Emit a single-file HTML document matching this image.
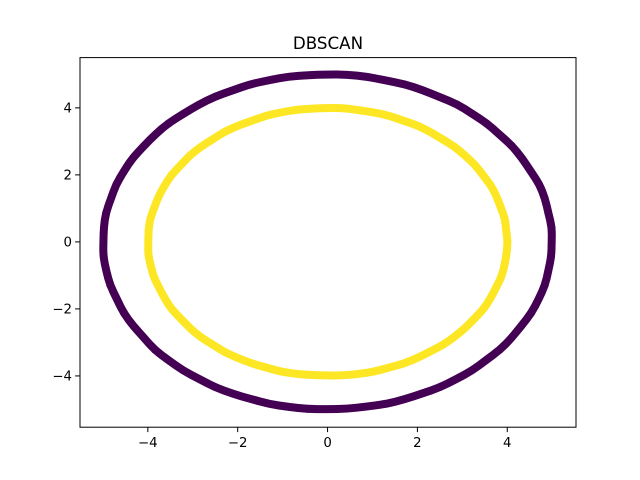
<!DOCTYPE html>
<html><head><meta charset="utf-8"><style>
body{margin:0;background:#fff}
svg{display:block;font-family:"DejaVu Sans","Liberation Sans",sans-serif}
</style></head><body>
<svg id="chart" width="640" height="480">
<rect width="640" height="480" fill="#fff"/>
<text x="328" y="49" font-size="16.7" text-anchor="middle" fill="#000">DBSCAN</text>
<g id="plot"></g>
<rect x="80" y="57.6" width="496" height="369.6" fill="none" stroke="#000" stroke-width="1"/>
<g id="axes"></g>
</svg>
<script>
const angles = [0,5,10,15,20,25,30,35,40,45,50,55,60,65,70,75,80,85,90,95,100,105,110,115,120,125,130,135,140,145,150,155,160,165,170,175,180,185,190,195,200,205,210,215,220,225,230,235,240,245,250,255,260,265,270,275,280,285,290,295,300,305,310,315,320,325,330,335,340,345,350,355];
const outerRadii = [4.99,5.01,4.99,5.01,5.02,4.99,5.0,5.01,4.99,5.01,5.0,5.02,4.99,5.0,5.01,4.99,5.01,5.01,5.0,4.99,5.01,5.0,5.01,4.99,5.01,5.0,4.99,5.01,5.0,4.99,5.01,5.0,5.01,4.99,5.01,5.0,4.99,5.01,5.0,5.01,4.99,5.01,5.0,4.99,5.02,5.0,5.01,4.99,5.01,5.0,4.99,5.01,5.0,5.01,4.99,5.0,4.99,5.01,5.0,4.99,5.01,5.0,5.01,4.99,5.01,5.0,4.99,5.01,5.0,5.01,4.99,5.0];
const innerRadii = [4.01,3.99,4.01,3.99,4.0,4.01,3.99,4.01,4.0,4.01,3.99,4.0,4.01,3.99,4.01,4.0,3.99,4.01,4.0,3.99,4.01,4.0,4.01,3.99,4.0,4.01,3.99,4.0,4.01,3.99,4.01,4.0,4.0,3.99,4.01,4.0,3.99,4.01,4.0,4.01,3.99,4.0,4.01,3.99,4.0,4.01,3.99,4.01,4.0,4.0,3.99,4.01,4.0,3.99,3.99,4.0,4.0,4.01,3.99,4.01,4.0,3.99,4.01,4.0,4.0,3.99,4.01,4.0,3.99,4.01,4.0,4.0];
const xTicks = [-4,-2,0,2,4];
const yTicks = [-4,-2,0,2,4];
const xMin=-5.51,xMax=5.53,yMin=-5.53,yMax=5.5;
const L=80,R=576,T=57.6,B=427.2;
const sx=v=>L+(v-xMin)/(xMax-xMin)*(R-L);
const sy=v=>B-(v-yMin)/(yMax-yMin)*(B-T);
const NS="http://www.w3.org/2000/svg";
const plot=document.getElementById('plot'), axes=document.getElementById('axes');
function drawRing(radii,color,name){
  const pts=angles.map((a,i)=>{const t=a*Math.PI/180;return [sx(radii[i]*Math.cos(t)),sy(radii[i]*Math.sin(t))];});
  const n=pts.length;
  let d='M'+((pts[n-1][0]+pts[0][0])/2).toFixed(1)+','+((pts[n-1][1]+pts[0][1])/2).toFixed(1);
  for(let i=0;i<n;i++){const a=pts[i],b=pts[(i+1)%n];
    d+='Q'+a[0].toFixed(1)+','+a[1].toFixed(1)+' '+((a[0]+b[0])/2).toFixed(1)+','+((a[1]+b[1])/2).toFixed(1);}
  const p=document.createElementNS(NS,'path');
  p.setAttribute('d',d+'Z');
  p.setAttribute('fill','none');p.setAttribute('stroke',color);p.setAttribute('stroke-width','8');p.setAttribute('stroke-linejoin','round');
  
  
  plot.appendChild(p);
  pts.forEach(q=>{const c=document.createElementNS(NS,'circle');
    c.setAttribute('cx',q[0]);c.setAttribute('cy',q[1]);c.setAttribute('r',3.6);c.setAttribute('fill',color);
    
    
    plot.appendChild(c);});
}
drawRing(outerRadii,'#440154','outer-cluster');
drawRing(innerRadii,'#fde725','inner-cluster');
function lbl(v){return v<0?'\u2212'+(-v):String(v);}
xTicks.forEach(v=>{const x=sx(v);
  const l=document.createElementNS(NS,'line');l.setAttribute('x1',x);l.setAttribute('x2',x);l.setAttribute('y1',B);l.setAttribute('y2',B+4.9);l.setAttribute('stroke','#000');
  
  
  axes.appendChild(l);
  const t=document.createElementNS(NS,'text');t.setAttribute('x',x);t.setAttribute('y',B+20);t.setAttribute('font-size','13.3');t.setAttribute('text-anchor','middle');t.textContent=lbl(v);
  
  
  axes.appendChild(t);});
yTicks.forEach(v=>{const y=sy(v);
  const l=document.createElementNS(NS,'line');l.setAttribute('x1',L-4.9);l.setAttribute('x2',L);l.setAttribute('y1',y);l.setAttribute('y2',y);l.setAttribute('stroke','#000');
  
  
  axes.appendChild(l);
  const t=document.createElementNS(NS,'text');t.setAttribute('x',L-8);t.setAttribute('y',y+4.8);t.setAttribute('font-size','13.3');t.setAttribute('text-anchor','end');t.textContent=lbl(v);
  
  
  axes.appendChild(t);});
</script>
</body></html>
